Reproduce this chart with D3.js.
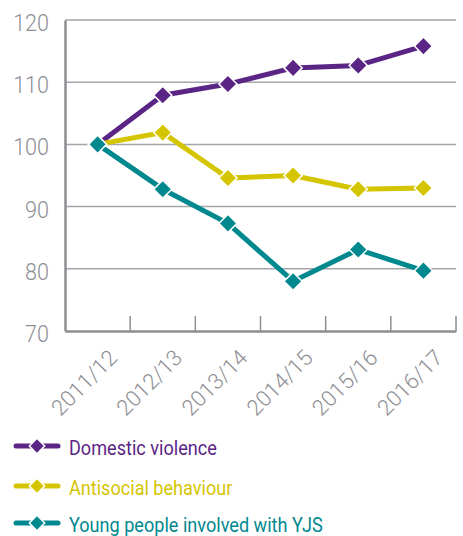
<!DOCTYPE html>
<html>
<head>
<meta charset="utf-8">
<script src="https://cdn.jsdelivr.net/npm/d3@7"></script>
<style>
  html, body { margin: 0; padding: 0; background: #fff; }
  svg { display: block; font-family: Roboto, "Noto Sans", sans-serif; }
</style>
</head>
<body>
<svg id="chart" width="463" height="536"></svg>
<script>
// Index values (2011/12 = 100)
const years = ["2011/12", "2012/13", "2013/14", "2014/15", "2015/16", "2016/17"];
const domesticViolence = [100, 107.9, 109.7, 112.3, 112.7, 115.8];
const antisocialBehaviour = [100, 101.9, 94.6, 95.0, 92.8, 93.0];
const youngPeopleYJS = [100, 92.8, 87.3, 78.0, 83.1, 79.7];
const yTicks = [70, 80, 90, 100, 110, 120];

const seriesNames = ["Domestic violence", "Antisocial behaviour", "Young people involved with YJS"];
const seriesColors = ["#5b2585", "#d5c500", "#00888f"];
const series = [domesticViolence, antisocialBehaviour, youngPeopleYJS].map((vals, i) => ({
  name: seriesNames[i], color: seriesColors[i], values: vals
}));

const svg = d3.select("#chart");
const plot = { left: 65, right: 456, top: 20, bottom: 331 };
const axisGrey = "#8e8e93";
const condense = 0.88; // narrow the Roboto glyphs horizontally

const x = d3.scaleBand().domain(years).range([plot.left, plot.right]);
const y = d3.scaleLinear().domain([70, 120]).range([plot.bottom, plot.top]);

// Horizontal gridlines
svg.append("g")
  .selectAll("line")
  .data(yTicks.filter(t => t > 70))
  .join("line")
  .attr("x1", plot.left).attr("x2", plot.right)
  .attr("y1", d => y(d)).attr("y2", d => y(d))
  .attr("stroke", "#a5a5aa").attr("stroke-width", 1.5);

// Y axis
const yAxis = svg.append("g")
  .attr("transform", `translate(${plot.left},0)`)
  .call(d3.axisLeft(y).tickValues(yTicks).tickSize(0));
yAxis.select(".domain").attr("stroke", axisGrey).attr("stroke-width", 2.5);
yAxis.selectAll("text")
  .attr("x", 0).attr("y", 0).attr("dy", 0)
  .attr("text-anchor", "end")
  .attr("transform", `translate(-16,10.5) scale(${condense},1)`)
  .attr("fill", axisGrey)
  .attr("font-size", 24.5)
  .attr("font-weight", 300)
  .attr("font-family", "Roboto, sans-serif");

// X axis with ticks at category boundaries pointing up into the plot
const xAxis = svg.append("g")
  .attr("transform", `translate(0,${plot.bottom})`)
  .call(d3.axisBottom(x).tickSize(0).tickPadding(0));
xAxis.select(".domain").attr("stroke", axisGrey).attr("stroke-width", 2.5);
xAxis.selectAll(".tick line").remove();
svg.append("g")
  .selectAll("line")
  .data(years)
  .join("line")
  .attr("x1", d => x(d) + x.bandwidth()).attr("x2", d => x(d) + x.bandwidth())
  .attr("y1", plot.bottom).attr("y2", plot.bottom - 15)
  .attr("stroke", axisGrey).attr("stroke-width", 1.5);
xAxis.selectAll("text")
  .attr("fill", axisGrey)
  .attr("font-size", 22)
  .attr("font-weight", 300)
  .attr("font-family", "Roboto, sans-serif")
  .attr("text-anchor", "end")
  .attr("y", 0).attr("dy", 0)
  .attr("transform", "translate(21,28) rotate(-45)");

// Lines and diamond markers
const line = d3.line()
  .x((d, i) => x(years[i]) + x.bandwidth() / 2)
  .y(d => y(d));
const diamond = d3.symbol().type(d3.symbolDiamond2).size(210);

series.forEach(s => {
  const g = svg.append("g");
  g.append("path")
    .attr("d", line(s.values))
    .attr("fill", "none")
    .attr("stroke", s.color)
    .attr("stroke-width", 5)
    .attr("stroke-linejoin", "round");
  g.selectAll("path.marker")
    .data(s.values)
    .join("path")
    .attr("class", "marker")
    .attr("d", diamond)
    .attr("transform", (d, i) => `translate(${x(years[i]) + x.bandwidth() / 2},${y(d)})`)
    .attr("fill", s.color)
    .attr("stroke", "#fff")
    .attr("stroke-width", 1.5);
});

// Legend
const legendY = [446, 486, 523];
const legend = svg.append("g");
series.forEach((s, i) => {
  const row = legend.append("g").attr("transform", `translate(0,${legendY[i]})`);
  row.append("line")
    .attr("x1", 16).attr("x2", 58)
    .attr("stroke", s.color).attr("stroke-width", 5).attr("stroke-linecap", "round");
  row.append("path")
    .attr("d", d3.symbol().type(d3.symbolDiamond2).size(150))
    .attr("transform", "translate(37,0)")
    .attr("fill", s.color)
    .attr("stroke", "#fff")
    .attr("stroke-width", 1.5);
  row.append("text")
    .attr("transform", `translate(69,9) scale(0.905,1)`)
    .attr("fill", s.color)
    .attr("font-size", 20)
    .attr("font-family", "Roboto, sans-serif")
    .text(s.name);
});
</script>
</body>
</html>
